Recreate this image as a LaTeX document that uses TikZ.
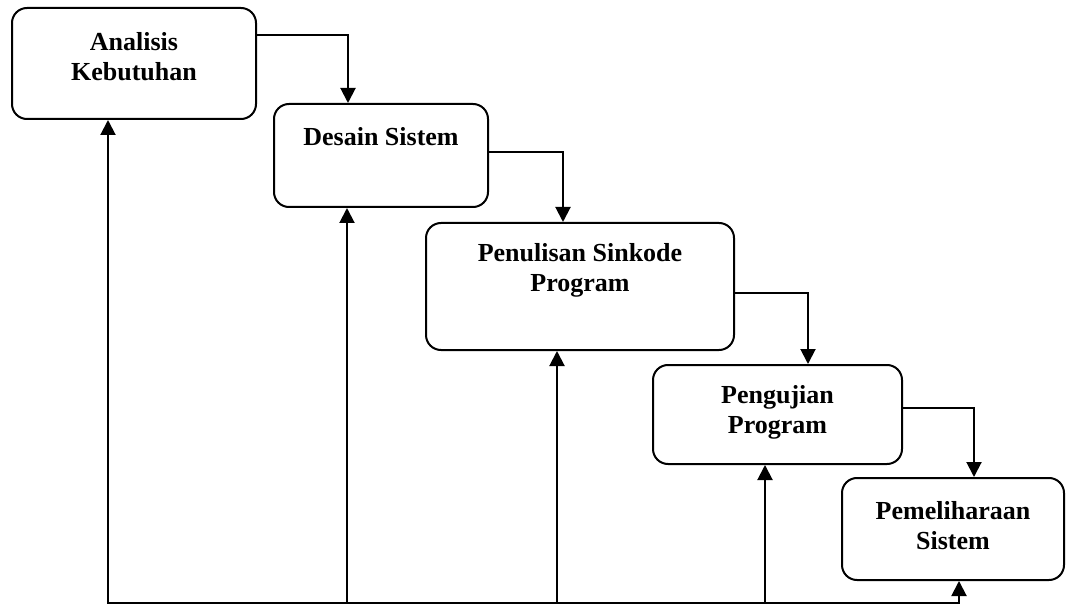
\documentclass[tikz,border=0pt]{standalone}
\usepackage{fontspec}
\setmainfont{Liberation Serif}
\usetikzlibrary{arrows.meta}
\begin{document}
\begin{tikzpicture}[x=1pt,y=-1pt,
  box/.style={draw,line width=2pt,rounded corners=15pt,inner sep=0pt},
  lbl/.style={align=center,font=\fontsize{26}{30}\selectfont\bfseries,inner sep=0pt},
  arr/.style={line width=2pt,-{Triangle[width=15pt,length=15pt]}},
  ln/.style={line width=2pt}]
\useasboundingbox (0,0) rectangle (1066,604);
% boxes
\node[box,minimum width=244pt,minimum height=111pt] (b1) at (134,63.5) {};
\node[box,minimum width=214pt,minimum height=103pt] (b2) at (381,155.5) {};
\node[box,minimum width=308pt,minimum height=127pt] (b3) at (580,286.5) {};
\node[box,minimum width=249pt,minimum height=99pt] (b4) at (777.5,414.5) {};
\node[box,minimum width=222pt,minimum height=102pt] (b5) at (953,529) {};
% labels
\node[lbl] (t1) at (134,57) {Analisis\\Kebutuhan};
\node[lbl] (t2) at (381,137) {Desain Sistem};
\node[lbl] (t3) at (580,270) {Penulisan Sinkode\\Program};
\node[lbl] (t4) at (777.5,412) {Pengujian\\Program};
\node[lbl] (t5) at (953,526) {Pemeliharaan\\Sistem};
% helper coordinates
\coordinate (y1) at (0,35);
\coordinate (x1) at (348,0);
\coordinate (y2) at (0,152);
\coordinate (x2) at (563,0);
\coordinate (y3) at (0,293);
\coordinate (x3) at (808,0);
\coordinate (y4) at (0,408);
\coordinate (x4) at (974,0);
% forward arrows
\draw[arr] (b1.east |- y1) -| (x1 |- b2.north);
\draw[arr] (b2.east |- y2) -| (x2 |- b3.north);
\draw[arr] (b3.east |- y3) -| (x3 |- b4.north);
\draw[arr] (b4.east |- y4) -| (x4 |- b5.north);
% feedback
\coordinate (g1) at (108,602.5);
\coordinate (g2) at (347,602.5);
\coordinate (g3) at (557,602.5);
\coordinate (g4) at (765,602.5);
\coordinate (g5) at (959,602.5);
\draw[ln] ([xshift=-1pt]g1) -- ([xshift=1pt]g5);
\draw[arr] (g1) -- (g1 |- b1.south);
\draw[arr] (g2) -- (g2 |- b2.south);
\draw[arr] (g3) -- (g3 |- b3.south);
\draw[arr] (g4) -- (g4 |- b4.south);
\draw[arr] (g5) -- (g5 |- b5.south);
\end{tikzpicture}
\end{document}
